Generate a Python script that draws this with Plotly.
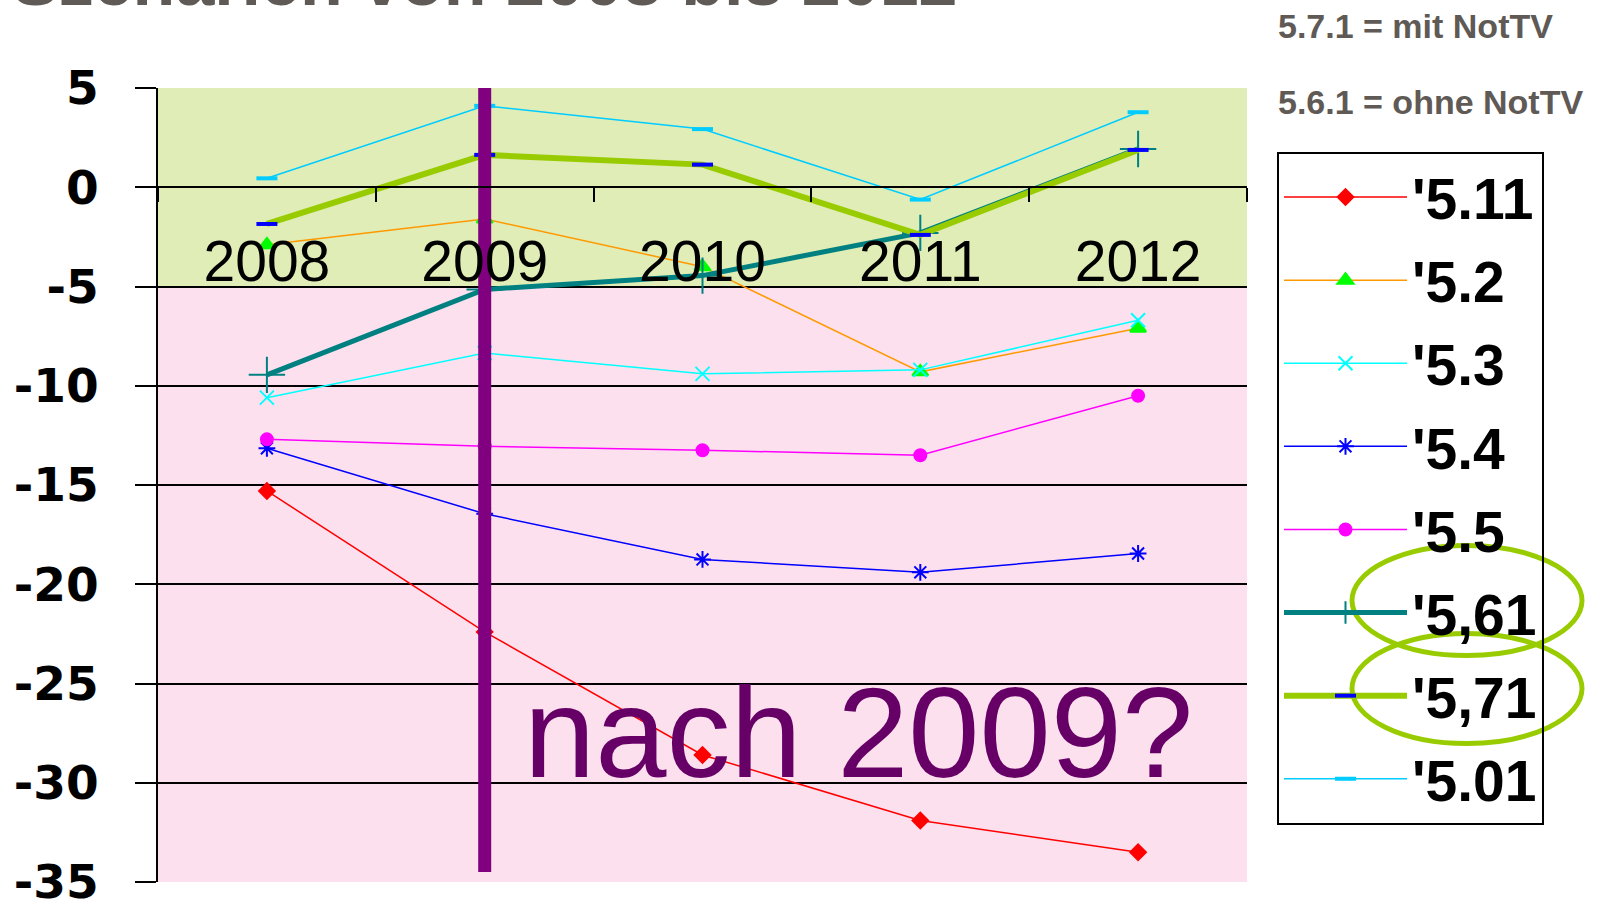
import plotly.graph_objects as go

years = ["2008", "2009", "2010", "2011", "2012"]

s_511 = [-15.3, -22.4, -28.6, -31.9, -33.5]
s_52 = [-2.9, -1.6, -4.0, -9.3, -7.1]
s_53 = [-10.6, -8.35, -9.4, -9.2, -6.7]
s_54 = [-13.15, -16.45, -18.75, -19.4, -18.45]
s_55 = [-12.7, -13.05, -13.25, -13.5, -10.5]
s_561 = [-9.45, -5.15, -4.45, -2.3, 1.93]
s_571 = [-1.85, 1.63, 1.14, -2.4, 1.88]
s_501 = [0.45, 4.1, 2.93, -0.62, 3.78]

y_ticks = [5, 0, -5, -10, -15, -20, -25, -30, -35]
y_ticktext = ["5", "0", "-5", "-10", "-15", "-20", "-25", "-30", "-35"]

# name, values, line colour, line width, marker symbol, marker colour, marker size
series = [
    ("'5.11", s_511, "#ff0000", 1.5, "diamond", "#ff0000", 12),
    ("'5.2", s_52, "#ff9900", 1.5, "triangle-up", "#00ff00", 14),
    ("'5.3", s_53, "#00ffff", 1.5, "x-thin-open", "#00ffff", 14),
    ("'5.4", s_54, "#0000ff", 1.5, "asterisk-open", "#0000ff", 14),
    ("'5.5", s_55, "#ff00ff", 1.5, "circle", "#ff00ff", 12),
    ("'5,61", s_561, "#008080", 5, "cross-thin-open", "#008080", 26),
    ("'5,71", s_571, "#99cc00", 6, "line-ew-open", "#0000ff", 15),
    ("'5.01", s_501, "#00ccff", 1.5, "line-ew-open", "#00ccff", 15),
]

fig = go.Figure()

for i, (name, vals, col, w, sym, mcol, msize) in enumerate(series):
    fig.add_trace(go.Scatter(
        x=years, y=vals, name=name, mode="lines+markers",
        legendgroup=str(i),
        line=dict(color=col, width=w),
        marker=dict(symbol=sym, color=mcol, size=msize,
                    line=dict(color=mcol, width=4 if sym == "line-ew-open" else 2)),
    ))

# purple marker line at 2009, drawn on top of the series
fig.add_trace(go.Scatter(
    x=[years[1], years[1]], y=[5, -34.5], mode="lines", showlegend=False,
    line=dict(color="#800080", width=13), hoverinfo="skip",
))

# plot area in pixels: left 158, right 1247, top 88.5, bottom 882.5
def px(x):
    return (x - 158) / 1089

def py(y):
    return (882.5 - y) / 794

shapes = [
    # coloured bands behind the grid
    dict(type="rect", xref="paper", x0=0, x1=1, yref="y", y0=-5, y1=5,
         fillcolor="#e0edb6", line_width=0, layer="below"),
    dict(type="rect", xref="paper", x0=0, x1=1, yref="y", y0=-35, y1=-5,
         fillcolor="#fde0ee", line_width=0, layer="below"),
    # ellipses round the legend entries
    dict(type="circle", xref="paper", yref="paper",
         x0=px(1352), x1=px(1582), y0=py(656), y1=py(546),
         line=dict(color="#99cc00", width=5)),
    dict(type="circle", xref="paper", yref="paper",
         x0=px(1352), x1=px(1582), y0=py(744), y1=py(634),
         line=dict(color="#99cc00", width=5)),
]

annotations = [
    dict(text="Szenarien von 2008 bis 2012", xref="paper", yref="paper",
         x=px(10), y=py(22), xanchor="left", yanchor="bottom", showarrow=False,
         font=dict(family="Liberation Sans", size=70, color="#5f5a55", weight="bold")),
    dict(text="5.7.1 = mit NotTV", xref="paper", yref="paper",
         x=px(1276), y=py(26), xanchor="left", yanchor="middle", showarrow=False,
         font=dict(family="Liberation Sans", size=34, color="#5f5a55", weight="bold")),
    dict(text="5.6.1 = ohne NotTV", xref="paper", yref="paper",
         x=px(1276), y=py(102), xanchor="left", yanchor="middle", showarrow=False,
         font=dict(family="Liberation Sans", size=34, color="#5f5a55", weight="bold")),
    dict(text="nach 2009?", xref="paper", yref="paper",
         x=px(522), y=py(733), xanchor="left", yanchor="middle", showarrow=False,
         font=dict(family="Liberation Sans", size=128, color="#660066")),
]

fig.update_layout(
    width=1598, height=902,
    margin=dict(l=158, r=351, t=88, b=20, autoexpand=False),
    paper_bgcolor="white", plot_bgcolor="white",
    shapes=shapes, annotations=annotations,
    showlegend=True,
    legend=dict(x=px(1277), y=py(152), xanchor="left", yanchor="top",
                bgcolor="rgba(0,0,0,0)", bordercolor="black", borderwidth=2,
                tracegroupgap=6, traceorder="grouped", itemwidth=123,
                font=dict(family="Liberation Sans", size=57, color="black", weight="bold")),
    xaxis=dict(type="category", anchor="free", position=0.875, automargin=False,
               showgrid=False, showline=True, linecolor="black", linewidth=2,
               ticks="outside", tickson="boundaries", ticklen=14, tickwidth=2,
               tickcolor="black", ticklabelstandoff=24,
               tickfont=dict(family="Liberation Sans", size=57, color="black"),
               range=[-0.5, 4.5]),
    yaxis=dict(range=[-35, 5], tickvals=y_ticks, ticktext=y_ticktext, automargin=False,
               ticklabeloverflow="allow",
               showgrid=True, gridcolor="black", gridwidth=2,
               zeroline=False, showline=True, linecolor="black", linewidth=2,
               ticks="outside", ticklen=21, tickwidth=2, tickcolor="black",
               ticklabelstandoff=27,
               tickfont=dict(family="DejaVu Sans", size=47, color="black", weight="bold")),
)

# drop the browser's default page margin so the figure sits at the top-left corner
fig.write_html("out.html", config={"displayModeBar": False},
               post_script="document.body.style.margin = '0px';")
